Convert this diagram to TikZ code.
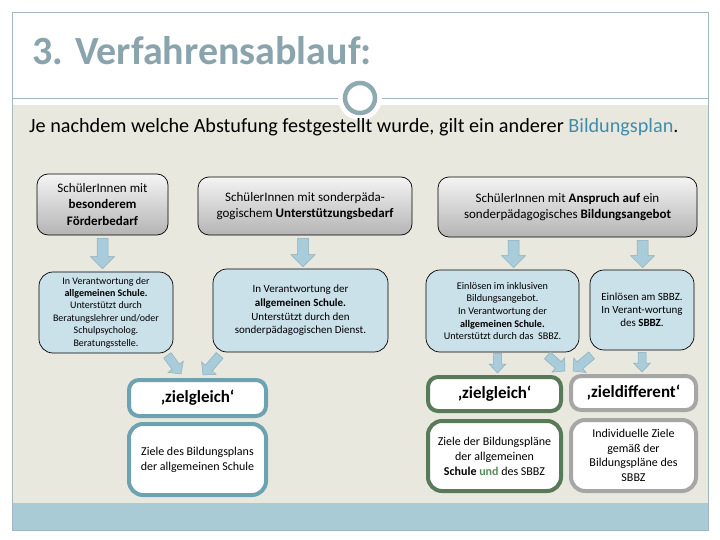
\documentclass[tikz,border=0pt]{standalone}
\usepackage{fontspec}
\setmainfont{Carlito}
\usetikzlibrary{calc}
\definecolor{framec}{HTML}{A3B7BE}
\definecolor{titlec}{HTML}{8AA4AD}
\definecolor{panelc}{HTML}{E9E8DF}
\definecolor{bandc}{HTML}{A9CBD5}
\definecolor{circc}{HTML}{8FA9B1}
\definecolor{planc}{HTML}{3F8DAA}
\definecolor{gtop}{HTML}{F4F4F4}
\definecolor{gbot}{HTML}{B4B4B4}
\definecolor{boxblue}{HTML}{CAE1EA}
\definecolor{arrfill}{HTML}{A8CCDA}
\definecolor{arrline}{HTML}{8EAEBB}
\definecolor{tealc}{HTML}{6DA2B3}
\definecolor{greenc}{HTML}{587A58}
\definecolor{grayc}{HTML}{A6A6A6}
\definecolor{undc}{HTML}{5B8A5B}

% block arrow connector: #1 start, #2 end, #3 shaft half width, #4 head half width, #5 head length
\newcommand\blkarr[5]{%
  \path ($(#2)!#5!(#1)$) coordinate (tmpH);
  \filldraw[blockarr] ($(#1)!#3!90:(#2)$) -- ($(tmpH)!#3!-90:(#1)$) -- ($(tmpH)!#4!-90:(#1)$)
     -- (#2) -- ($(tmpH)!#4!90:(#1)$) -- ($(tmpH)!#3!90:(#1)$) -- ($(#1)!#3!-90:(#2)$) -- cycle;
}

\begin{document}
\begin{tikzpicture}[x=1pt,y=-1pt,
  blockarr/.style={fill=arrfill, draw=arrline, line width=0.5pt},
  graybox/.style={draw=black, line width=0.7pt, rounded corners=11pt, top color=gtop, bottom color=gbot,
    align=center, inner sep=2pt, font=\fontsize{13}{16.5}\selectfont},
  bluebox/.style={draw=black, line width=0.7pt, rounded corners=14pt, fill=boxblue,
    align=center, inner sep=2pt, font=\fontsize{10}{12.4}\selectfont},
  headbox/.style={draw=#1, line width=4pt, rounded corners=10pt, fill=white,
    align=center, inner sep=2pt, font=\fontsize{17}{20}\selectfont\bfseries},
  goalbox/.style={draw=#1, line width=4pt, rounded corners=14pt, fill=white,
    align=center, inner sep=2pt, font=\fontsize{12}{15}\selectfont}
]
\useasboundingbox (0,0) rectangle (720,540);
\fill[white] (0,0) rectangle (720,540);
\fill[panelc] (12,105) rectangle (708,503);
\fill[bandc] (12,503) rectangle (708,530);
\draw[framec, line width=0.8pt] (12,12) rectangle (708,530);
\draw[framec, line width=0.8pt] (12,98) -- (708,98);
\fill[white] (360,98) circle (22);
\draw[circc, line width=4.5pt, fill=white] (360,98) circle (15);

\node[anchor=base west, inner sep=0, font=\fontsize{40}{44}\selectfont\bfseries, text=titlec] (title) at (32,65) {3. Verfahrensablauf:};
\node[anchor=base west, inner sep=0, font=\fontsize{20.2}{22}\selectfont] (sub) at (29,133)
  {Je nachdem welche Abstufung festgestellt wurde, gilt ein anderer \textcolor{planc}{Bildungsplan}.};

% row 1
\node[graybox, minimum width=131, minimum height=61] (A) at (102.5,204.5)
  {SchülerInnen mit\\\textbf{besonderem}\\\textbf{Förderbedarf}};
\node[graybox, minimum width=214, minimum height=58] (B) at (305,206)
  {SchülerInnen mit sonderpäda-\\gogischem \textbf{Unterstützungsbedarf}};
\node[graybox, minimum width=259, minimum height=60] (C) at (567.5,207)
  {SchülerInnen mit \textbf{Anspruch auf} ein\\sonderpädagogisches \textbf{Bildungsangebot}};

% row 2
\node[bluebox, minimum width=134, minimum height=81] (D) at (106,312.5)
  {In Verantwortung der\\\textbf{allgemeinen Schule.}\\Unterstützt durch\\Beratungslehrer und/oder\\Schulpsycholog.\\Beratungsstelle.};
\node[bluebox, minimum width=175, minimum height=83, font=\fontsize{11}{13.6}\selectfont] (E) at (300.5,310.5)
  {In Verantwortung der\\\textbf{allgemeinen Schule.}\\Unterstützt durch den\\sonderpädagogischen Dienst.};
\node[bluebox, minimum width=153, minimum height=82, font=\fontsize{10.2}{12.6}\selectfont] (F) at (502.5,311)
  {Einlösen im inklusiven\\Bildungsangebot.\\In Verantwortung der\\\textbf{allgemeinen Schule.}\\Unterstützt durch das\ \ SBBZ.};
\node[bluebox, minimum width=104, minimum height=80, font=\fontsize{11}{13}\selectfont] (G) at (642,310)
  {Einlösen am SBBZ.\\In Verant-wortung\\des \textbf{SBBZ}.};

% row 3
\node[headbox=tealc, minimum width=137, minimum height=36] (H) at (197.5,398) {‚zielgleich‘};
\node[goalbox=tealc, minimum width=137, minimum height=71] (I) at (197.5,459.5)
  {Ziele des Bildungsplans\\der allgemeinen Schule};
\node[headbox=greenc, minimum width=133, minimum height=34] (J) at (494.5,394) {‚zielgleich‘};
\node[goalbox=greenc, minimum width=133, minimum height=70] (K) at (494.5,456)
  {Ziele der Bildungspläne\\der allgemeinen\\\textbf{Schule} \textcolor{undc}{\textbf{und}} des SBBZ};
\node[headbox=grayc, minimum width=125, minimum height=34] (L) at (633.5,393) {‚zieldifferent‘};
\node[goalbox=grayc, minimum width=125, minimum height=71, font=\fontsize{12}{14.5}\selectfont] (M) at (633.5,455.5)
  {Individuelle Ziele\\gemäß der\\Bildungspläne des\\SBBZ};

% connector end points
\coordinate (s1) at ($(A.south)+(0,3)$);      \coordinate (e1) at ($(s1 |- D.north)+(0,-3)$);
\coordinate (s2) at ($(B.south)+(-2,3)$);     \coordinate (e2) at ($(s2 |- E.north)+(0,-2)$);
\coordinate (s3) at ($(C.south)+(-54,3)$);    \coordinate (e3) at ($(s3 |- F.north)+(0,-2)$);
\coordinate (s4) at ($(C.south)+(75,3)$);     \coordinate (e4) at ($(s4 |- G.north)+(0,-2)$);
\coordinate (s5) at ($(D.south east)+(-6,2)$); \coordinate (e5) at ($(H.north west)+(54,-4)$);
\coordinate (s6) at ($(E.south west)+(7,3)$);  \coordinate (e6) at ($(H.north west)+(76,-3)$);
\coordinate (s7) at ($(F.south)+(-5,1)$);      \coordinate (e7) at ($(s7 |- J.north)+(0,-2)$);
\coordinate (s8) at ($(F.south east)+(-32,3)$); \coordinate (e8) at ($(J.north east)+(2,-4)$);
\coordinate (s9) at ($(G.south west)+(2,5)$);  \coordinate (e9) at ($(L.north west)+(4,-3)$);
\coordinate (s10) at ($(G.south)+(0,2)$);      \coordinate (e10) at ($(s10 |- L.north)+(0,-2)$);

\blkarr{s1}{e1}{5.5pt}{12pt}{12pt}
\blkarr{s2}{e2}{5.5pt}{12pt}{12pt}
\blkarr{s3}{e3}{5.5pt}{12pt}{12pt}
\blkarr{s4}{e4}{5.5pt}{12pt}{12pt}
\blkarr{s5}{e5}{4.5pt}{9.5pt}{9pt}
\blkarr{s6}{e6}{4.5pt}{9.5pt}{9pt}
\blkarr{s7}{e7}{4pt}{8.5pt}{9pt}
\blkarr{s8}{e8}{4.5pt}{9.5pt}{9pt}
\blkarr{s9}{e9}{4.5pt}{9.5pt}{9pt}
\blkarr{s10}{e10}{4pt}{8.5pt}{9pt}
\end{tikzpicture}
\end{document}
